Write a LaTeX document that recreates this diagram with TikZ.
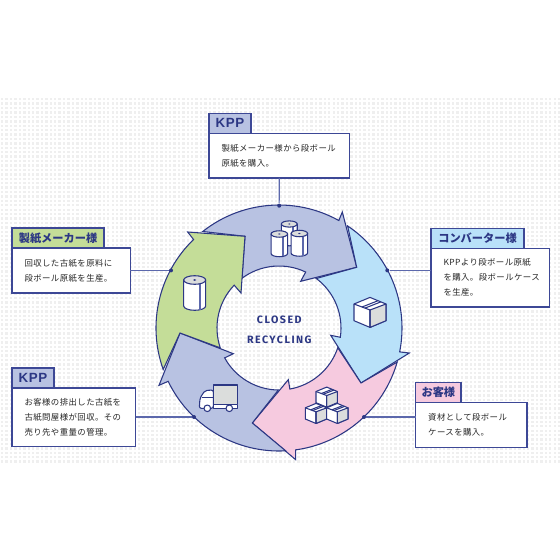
\documentclass[tikz,border=0pt]{standalone}
\usepackage{fontspec}
\setmainfont[LetterSpace=5]{Noto Sans CJK JP}
\newfontfamily\headfont{Noto Sans CJK JP}
\newfontfamily\kppfont[LetterSpace=5]{Liberation Sans}
\newfontfamily\ringfont[LetterSpace=14]{Fira Sans}
\definecolor{inkline}{HTML}{2C3784}
\definecolor{boxline}{HTML}{3D4896}
\definecolor{wireline}{HTML}{5C68AC}
\definecolor{lilacfill}{HTML}{B8C2E2}
\definecolor{skyfill}{HTML}{B9E1F9}
\definecolor{pinkfill}{HTML}{F6CADF}
\definecolor{leaffill}{HTML}{C4DD98}
\definecolor{greyfill}{HTML}{DBDDDC}
\definecolor{griddot}{HTML}{EFEFEF}
\tikzset{
  ringarrow/.style={draw=inkline, line width=.8pt, line join=miter, miter limit=5},
  panel/.style={draw=boxline, fill=white, line width=.9pt, anchor=north west, align=left, outer sep=0pt,
    inner xsep=9.4pt, inner ysep=0pt, text=black!85, font=\fontsize{6.3}{11.25}\selectfont},
  tabbox/.style={draw=boxline, line width=.9pt, anchor=south west, inner sep=0pt, outer sep=0pt, text=inkline,
    minimum height=15pt, font=\headfont\bfseries\fontsize{8.4}{10}\selectfont},
  kpptab/.style={tabbox, fill=lilacfill, minimum width=31.5pt, font=\kppfont\bfseries\fontsize{10}{10}\selectfont},
  dotmark/.style={circle, fill=inkline, inner sep=0pt, minimum size=3pt},
  wire/.style={draw=wireline, line width=.8pt},
  ringlabel/.style={text=inkline, font=\ringfont\bfseries\fontsize{8}{10}\selectfont, inner sep=0pt},
  iconline/.style={draw=inkline, line width=.8pt, line join=round},
  roll/.pic={
    \draw[iconline, fill=white] (-11,0) -- (-11,26) arc[start angle=180, end angle=0, x radius=11, y radius=4.3]
      -- (11,0) -- cycle;
    \draw[draw=wireline, line width=1.3pt] (5,4) -- (5,29.5);
    \draw[iconline, fill=greyfill] (0,0) ellipse[x radius=11, y radius=4.3];
    \fill[inkline] (0,0) ellipse[x radius=1.6, y radius=.9];
  },
  carton/.pic={
    \draw[iconline, fill=white] (0,-13.3) -- (16,-6.7) -- (16,10) -- (0,16.7) -- (-16,10) -- (-16,-6.7) -- cycle;
    \draw[iconline, fill=greyfill] (0,-.7) -- (16,-6.7) -- (16,10) -- (0,16.7) -- cycle;
    \draw[iconline] (-16,-6.7) -- (0,-.7) -- (0,16.7);
    \draw[iconline] (-8,-3.7) -- (8,-10);
    \draw[iconline] (-5,-2.6) -- (11,-8.9);
  },
}
\begin{document}
\begin{tikzpicture}[x=.75pt, y=-.75pt]
\useasboundingbox (0,0) rectangle (560,560);

% dotted ground
\foreach \gx in {0,...,126}
  \foreach \gy in {0,...,82}
    \fill[griddot] ({1+4.42*\gx},{98+4.42*\gy}) rectangle +(2.4,2.4);

% panels
\node[panel, text width=86.6pt, minimum height=33.5pt] (kppbuy) at (209,133.3) {製紙メーカー様から段ボール\\原紙を購入。};
\node[panel, text width=69.8pt, minimum height=33.8pt] (millmake) at (12,248) {回収した古紙を原料に\\段ボール原紙を生産。};
\node[panel, text width=73.9pt, minimum height=44pt] (kppcollect) at (12,388) {お客様の排出した古紙を\\古紙問屋様が回収。その\\売り先や重量の管理。};
\node[panel, text width=70.1pt, minimum height=43.9pt] (convmake) at (431,248.5) {KPPより段ボール原紙\\を購入。段ボールケース\\を生産。};
\node[panel, text width=64.7pt, minimum height=33.8pt] (userbuy) at (415.7,402.3) {資材として段ボール\\ケースを購入。};

% tabs
\node[kpptab] (kpptop) at (209,133.3) {KPP};
\node[tabbox, fill=leaffill, minimum width=69pt] (milltab) at (12,248) {製紙メーカー様};
\node[kpptab] (kpplow) at (12,388) {KPP};
\node[tabbox, fill=skyfill, minimum width=69.8pt] (convtab) at (431,248.5) {コンバーター様};
\node[tabbox, fill=pinkfill, minimum width=34pt] (usertab) at (415.7,402.3) {お客様};

% ring
\begin{scope}[shift={(279,328)}]
\draw[ringarrow, fill=lilacfill] (231.7:123) arc[start angle=231.7, end angle=299.1, radius=123]
  -- (63.3,-116) -- (77.7,-60.7) -- (21.7,-46.7) -- (295.5:62)
  arc[start angle=295.5, end angle=233.3, radius=62] -- (-34,-91.7) -- cycle;
\draw[ringarrow, fill=skyfill] (303.9:123) arc[start angle=303.9, end angle=371.2, radius=123]
  -- (130.3,25) -- (82,55) -- (51.7,7.3) -- (8.6:62)
  arc[start angle=368.6, end angle=307, radius=62] -- (77.7,-60.7) -- cycle;
\draw[ringarrow, fill=pinkfill] (16.1:123) arc[start angle=16.1, end angle=82.2, radius=123]
  -- (16.7,131.7) -- (-26.7,95) -- (9.3,51.7) -- (79.9:62)
  arc[start angle=79.9, end angle=18.6, radius=62] -- (82,55) -- cycle;
\draw[ringarrow, fill=lilacfill] (86.9:123) arc[start angle=86.9, end angle=154.3, radius=123]
  -- (-120,57.3) -- (-99,5) -- (-45.7,25.7) -- (151.2:62)
  arc[start angle=151.2, end angle=90.6, radius=62] -- (-26.7,95) -- cycle;
\draw[ringarrow, fill=leaffill] (160.3:123) arc[start angle=160.3, end angle=226, radius=123]
  -- (-91.3,-96) -- (-34,-91.7) -- (-38,-35) -- (223.7:62)
  arc[start angle=223.7, end angle=161.3, radius=62] -- (-99,5) -- cycle;
\end{scope}

% joints on the ring
\node[dotmark] (topjoint) at (279.2,205.7) {};
\node[dotmark] (leftjoint) at (171,270.4) {};
\node[dotmark] (rightjoint) at (387.3,270.4) {};
\node[dotmark] (lowleftjoint) at (194,417) {};
\node[dotmark] (lowrightjoint) at (364,417) {};

\draw[wire] (kppbuy.south) -- (topjoint);
\draw[wire] (millmake.east |- leftjoint) -- (leftjoint);
\draw[wire] (convmake.west |- rightjoint) -- (rightjoint);
\draw[wire] (kppcollect.east |- lowleftjoint) -- (lowleftjoint);
\draw[wire] (userbuy.west |- lowrightjoint) -- (lowrightjoint);

% icons
\pic at (289.3,224) [scale=.72] {roll};
\pic at (279.3,234) [scale=.75] {roll};
\pic at (299.3,233.5) [scale=.75] {roll};
\pic at (194.7,280) {roll};
\pic at (370,310.7) {carton};
\pic at (326.7,396) [scale=.67] {carton};
\pic at (316,412.3) [scale=.67] {carton};
\pic at (337.3,412.3) [scale=.67] {carton};

% truck
\draw[iconline, fill=greyfill] (213.3,385) rectangle (237.7,404.3);
\draw[iconline, fill=white] (213.3,404.3) rectangle (237.7,408.3);
\draw[iconline, fill=white, rounded corners=1.5pt] (213.3,390) -- (205,390.5) -- (200,398) -- (199.3,408.3) -- (213.3,408.3) -- cycle;
\draw[iconline] (201.5,397.5) -- (213.3,397.5);
\draw[iconline, fill=white] (207.3,408.3) circle[radius=3.3];
\draw[iconline, fill=white] (229.3,408.3) circle[radius=3.3];

% centre text
\node[ringlabel] (closedtxt) at (279.3,320) {CLOSED};
\node[ringlabel] (recycletxt) at (279.3,340) {RECYCLING};
\end{tikzpicture}
\end{document}
